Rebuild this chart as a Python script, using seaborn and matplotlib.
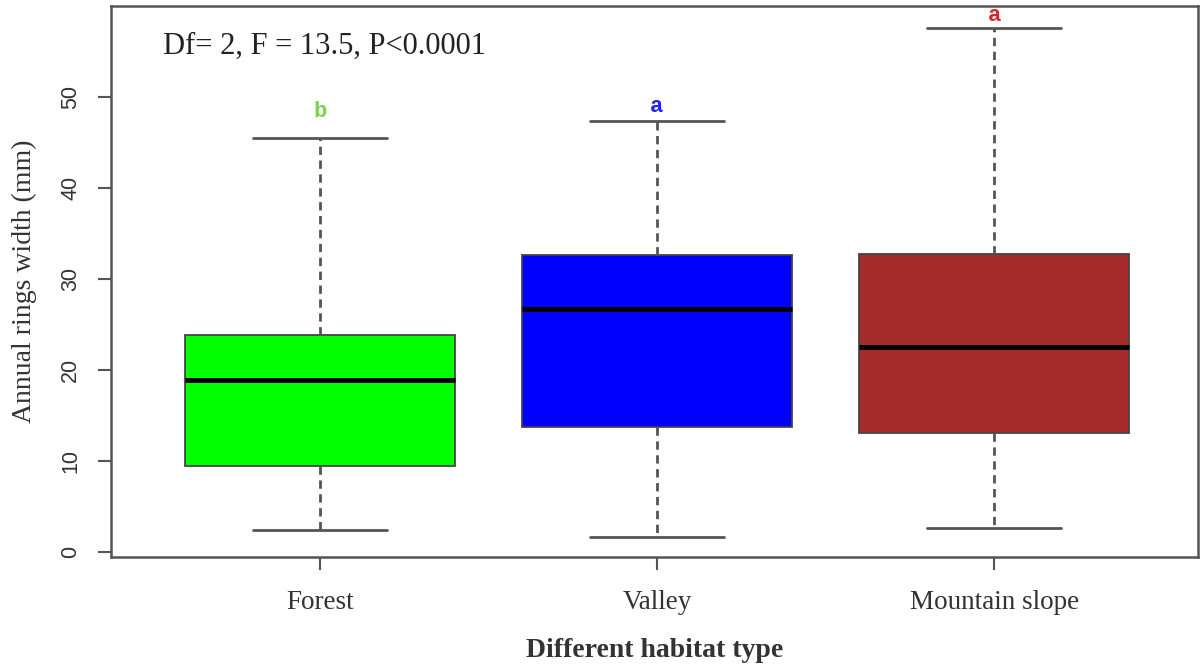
import numpy as np
import pandas as pd
import seaborn as sns
import matplotlib.pyplot as plt

# Box summary (whisker low, Q1, median, Q3, whisker high)
habitats = ["Forest", "Valley", "Mountain slope"]
forest_vals = [2.4, 9.4, 18.9, 23.9, 45.5]
valley_vals = [1.6, 13.7, 26.7, 32.6, 47.4]
mountain_vals = [2.6, 13.1, 22.5, 32.7, 57.6]
box_colors = ["#00ff00", "#0000ff", "#a52a2a"]

# Significance letters over each box
letters = ["b", "a", "a"]
letter_y = [48.4, 48.9, 59.0]
letter_colors = ["#7fd34a", "#1f1fff", "#d42a2a"]

stats_text = "Df= 2, F = 13.5, P<0.0001"

df = pd.DataFrame({
    "habitat": np.repeat(habitats, 5),
    "width": forest_vals + valley_vals + mountain_vals,
})

sns.set_style("white")
plt.rcParams["font.family"] = ["Liberation Serif", "DejaVu Serif"]

fig = plt.figure(figsize=(12.04, 6.65), dpi=100)
ax = fig.add_axes([0.0922, 0.1624, 0.9028, 0.8286])

grey = "#555555"
sns.boxplot(data=df, x="habitat", y="width", hue="habitat",
            palette=box_colors, saturation=1, legend=False,
            whis=(0, 100), width=0.8, ax=ax,
            boxprops=dict(edgecolor="#444444", linewidth=1.3),
            whiskerprops=dict(color=grey, linestyle=(0, (3, 2)), linewidth=2),
            capprops=dict(color=grey, linewidth=2),
            medianprops=dict(color="black", linewidth=3.5))

for i, (lab, yv, col) in enumerate(zip(letters, letter_y, letter_colors)):
    ax.text(i, yv, lab, color=col, ha="center", va="center",
            fontsize=16, fontweight="bold", family="Liberation Mono")

ax.text(0.048, 0.926, stats_text, transform=ax.transAxes, ha="left",
        va="center", fontsize=22, color="#222222")

ax.set_xlim(-0.62, 2.605)
ax.set_ylim(-0.55, 60)
ax.set_yticks([0, 10, 20, 30, 40, 50])
ax.set_yticklabels(["0", "10", "20", "30", "40", "50"], rotation=90,
                   va="center", family="Liberation Sans", fontsize=15.5,
                   color="#333333")
for t in ax.get_xticklabels():
    t.set_fontsize(19.5)
    t.set_color("#333333")

ax.tick_params(axis="both", length=9.5, width=1.5, color=grey, left=True,
               bottom=True)
ax.tick_params(axis="y", pad=12)
ax.tick_params(axis="x", pad=14)
for s in ax.spines.values():
    s.set_color(grey)
    s.set_linewidth(1.8)

ax.set_xlabel("Different habitat type", fontsize=20, fontweight="bold",
              color="#333333", labelpad=17)
ax.set_ylabel("Annual rings width (mm)", fontsize=20, color="#333333",
              labelpad=17)

fig.savefig("out.png", dpi=100)
